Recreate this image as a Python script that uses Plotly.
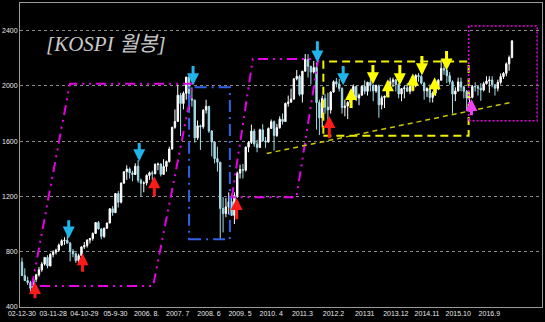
import plotly.graph_objects as go

# Monthly KOSPI candles, Dec 2002 .. May 2017
opens = [725,
 627,591,576,535,600,633,669,710,759,697,780,796,
 811,848,880,883,862,803,785,735,771,835,845,884,
 896,932,1011,965,911,970,1008,1111,1083,1221,1158,1297,
 1379,1399,1371,1359,1419,1317,1295,1297,1352,1371,1364,1432,
 1434,1360,1417,1453,1543,1700,1743,1933,1873,1946,2064,1906,
 1897,1624,1711,1704,1825,1852,1674,1594,1474,1448,1113,1076,
 1124,1162,1063,1206,1369,1395,1390,1557,1591,1673,1580,1555,
 1682,1602,1594,1692,1741,1641,1698,1759,1742,1873,1882,1905,
 2051,2069,1939,2106,2192,2142,2100,2133,1880,1769,1909,1847,
 1826,1956,2030,2014,1982,1843,1854,1881,1905,1996,1912,1933,
 1997,1961,2026,2005,1964,2001,1863,1915,1926,2005,2030,2044,
 2011,1941,1980,1986,1961,1995,2002,2076,2068,2020,1964,1981,
 1916,1949,1986,2041,2127,2114,2074,2030,1941,1963,2029,1992,
 1961,1912,1917,1996,1994,1983,1970,2016,2035,2043,2008,1983,
 2026,2067,2091,2160,2205]
highs = [757,
 680,620,590,610,640,690,725,762,775,790,810,822,
 860,890,905,936,870,820,795,785,840,870,890,900,
 940,1015,1022,970,975,1010,1115,1130,1225,1240,1300,1380,
 1425,1410,1385,1440,1464,1330,1310,1360,1380,1385,1440,1445,
 1440,1470,1460,1560,1705,1830,2005,1950,1960,2064,2085,1990,
 1900,1750,1720,1830,1900,1855,1680,1600,1560,1450,1195,1190,
 1230,1220,1230,1380,1430,1435,1560,1600,1720,1690,1610,1690,
 1723,1630,1700,1757,1750,1725,1780,1800,1880,1930,1980,2055,
 2115,2080,2110,2231,2230,2145,2180,2170,1900,1930,1940,1950,
 1960,2040,2057,2050,1990,1900,1890,1960,2010,2000,1945,2005,
 2040,2030,2050,2010,2010,2010,1930,1930,2010,2060,2060,2050,
 2020,1985,2000,2020,2020,2015,2085,2093,2080,2030,1990,2010,
 1960,1990,2050,2189,2150,2120,2100,2040,1990,2060,2060,2000,
 1970,1950,2005,2025,2000,2020,2030,2070,2070,2070,2010,2045,
 2090,2100,2170,2220,2330]
lows = [627,
 588,560,512,530,580,620,655,700,680,695,760,780,
 800,840,850,860,730,760,719,720,770,820,830,860,
 880,930,960,890,900,965,1005,1060,1080,1120,1150,1290,
 1320,1330,1310,1355,1300,1200,1230,1280,1320,1315,1360,1390,
 1345,1355,1380,1445,1540,1690,1740,1638,1830,1900,1810,1850,
 1590,1610,1537,1690,1800,1660,1490,1440,1380,892,940,1050,
 1070,1060,1000,1190,1330,1330,1380,1520,1580,1560,1520,1550,
 1600,1552,1590,1690,1532,1630,1690,1720,1740,1850,1880,1900,
 2040,1925,1880,2105,2060,2010,2090,1684,1644,1700,1800,1750,
 1800,1950,1990,1960,1800,1780,1760,1870,1900,1890,1860,1930,
 1940,1930,1960,1890,1950,1770,1830,1840,1920,2000,1990,1960,
 1910,1890,1910,1960,1940,1960,1990,2030,2010,1900,1920,1880,
 1880,1930,1970,2040,2080,2020,2010,1800,1890,1960,1960,1910,
 1817,1817,1910,1960,1930,1892,1960,2010,1950,1990,1930,1960,
 2010,2050,2070,2110,2200]
closes = [627,
 591,576,535,600,633,669,710,759,697,780,796,811,
 848,880,883,862,803,785,735,771,835,845,884,896,
 932,1011,965,911,970,1008,1111,1083,1221,1158,1297,1379,
 1399,1371,1359,1419,1317,1295,1297,1352,1371,1364,1432,1434,
 1360,1417,1453,1543,1700,1743,1933,1873,1946,2064,1906,1897,
 1624,1711,1704,1825,1852,1674,1594,1474,1448,1113,1076,1124,
 1162,1063,1206,1369,1395,1390,1557,1591,1673,1580,1555,1682,
 1602,1594,1692,1741,1641,1698,1759,1742,1873,1882,1905,2051,
 2069,1939,2106,2192,2142,2100,2133,1880,1769,1909,1847,1826,
 1956,2030,2014,1982,1843,1854,1881,1905,1996,1912,1933,1997,
 1961,2026,2005,1964,2001,1863,1915,1926,2005,2030,2044,2011,
 1941,1980,1986,1961,1995,2002,2076,2068,2020,1964,1981,1916,
 1949,1986,2041,2127,2114,2074,2030,1941,1963,2029,1992,1961,
 1912,1917,1996,1994,1983,1970,2016,2035,2043,2008,1983,2026,
 2067,2091,2160,2205,2326]

tick_pos = [0, 11, 22, 33, 44, 55, 66, 77, 88, 99, 110, 121, 132, 143, 154, 165]
tick_text = ["02-12-30", "03-11-28", "04-10-29", "05-9-30", "2006. 8.", "2007. 7",
             "2008. 6", "2009. 5", "2010. 4", "2011.3", "2012.2", "20131",
             "2013.12", "2014.11", "2015.10", "2016.9"]
y_ticks = [400, 800, 1200, 1600, 2000, 2400]

title_text = "[KOSPI 월봉]"

# annotation geometry in data units (bar index, index level)
para1 = [(3.5, 552), (16.9, 2015), (60.4, 2015), (46.3, 552)]
para2 = [(74.1, 1195), (81.5, 2195), (104.6, 2195), (96.9, 1195)]
blue_box = (59.0, 890, 73.4, 1990)
yellow_box = (106.4, 1640, 157.7, 2177)
trend_line = (86.4, 1511, 173.1, 1883)
magenta_box = (157.7, 1747, 181.9, 2434)

# arrows: (bar index, tail level, tip level)
cyan_down = [(16.5, 1039, 896), (41.4, 1597, 1454), (60.4, 2155, 2005),
             (104.3, 2334, 2170), (113.4, 2155, 2005)]
red_up = [(4.6, 452, 581), (21.4, 645, 789), (46.7, 1189, 1347),
          (75.8, 1025, 1189), (108.5, 1612, 1783)]
yellow_up = [(116.2, 1829, 1984), (129.2, 1905, 2049), (138.0, 1955, 2090),
             (145.7, 1920, 2062)]
yellow_down = [(123.9, 2162, 2012), (133.4, 2162, 2005), (141.2, 2227, 2077),
               (149.9, 2263, 2112)]
magenta_up = [(158.7, 1776, 1905)]

xs = list(range(len(closes)))

fig = go.Figure()
fig.add_trace(go.Candlestick(
    x=xs, open=opens, high=highs, low=lows, close=closes,
    increasing=dict(line=dict(color="#ffffff", width=1), fillcolor="#ffffff"),
    decreasing=dict(line=dict(color="#a6dce8", width=1), fillcolor="#a6dce8"),
    whiskerwidth=0, showlegend=False, hoverinfo="skip"))


def path_of(pts):
    s = "M " + " L ".join(f"{x},{y}" for x, y in pts) + " Z"
    return s

MAG = "#e600e6"
fig.add_shape(type="path", path=path_of(para1), xref="x", yref="y",
              line=dict(color=MAG, width=2, dash="10px,5px,2px,5px,2px,5px"))
fig.add_shape(type="path", path=path_of(para2), xref="x", yref="y",
              line=dict(color=MAG, width=2, dash="10px,5px,2px,5px,2px,5px"))
x0, y0, x1, y1 = blue_box
fig.add_shape(type="rect", x0=x0, y0=y0, x1=x1, y1=y1, xref="x", yref="y",
              line=dict(color="#2f62e6", width=2, dash="12px,5px,2px,5px"))
x0, y0, x1, y1 = yellow_box
fig.add_shape(type="rect", x0=x0, y0=y0, x1=x1, y1=y1, xref="x", yref="y",
              line=dict(color="#f0f000", width=2, dash="8px,5px"))
x0, y0, x1, y1 = trend_line
fig.add_shape(type="line", x0=x0, y0=y0, x1=x1, y1=y1, xref="x", yref="y",
              line=dict(color="#c8c800", width=1.5, dash="5px,4px"))
x0, y0, x1, y1 = magenta_box
fig.add_shape(type="rect", x0=x0, y0=y0, x1=x1, y1=y1, xref="x", yref="y",
              line=dict(color=MAG, width=1.5, dash="2px,2px"))


def add_arrows(lst, color):
    for xi, tail, tip in lst:
        fig.add_annotation(x=xi, y=tip, ax=xi, ay=tail, xref="x", yref="y",
                           axref="x", ayref="y", text="", showarrow=True,
                           arrowhead=2, arrowsize=0.8, arrowwidth=3,
                           arrowcolor=color, standoff=0)

add_arrows(cyan_down, "#1fb4ea")
add_arrows(red_up, "#ff1a1a")
add_arrows(yellow_up, "#ffff00")
add_arrows(yellow_down, "#ffff00")
add_arrows(magenta_up, "#f040f0")

fig.add_annotation(x=0.046, y=0.866, xref="paper", yref="paper",
                   xanchor="left", yanchor="middle", showarrow=False,
                   text=f"<i>{title_text}</i>",
                   font=dict(family="'Liberation Serif', 'Noto Sans CJK KR', serif",
                             size=21, color="#c8c8c8"))

fig.update_layout(
    width=545, height=322,
    margin=dict(l=18, r=2, t=2, b=15),
    paper_bgcolor="#000000", plot_bgcolor="#000000",
    showlegend=False,
    xaxis=dict(range=[-0.7, 183.6], tickvals=tick_pos, ticktext=tick_text,
               showgrid=False, zeroline=False, rangeslider=dict(visible=False),
               showline=True, linecolor="#9a9a9a", linewidth=1, mirror=True,
               ticks="", tickfont=dict(family="Liberation Sans", size=7, color="#e8e8e8")),
    yaxis=dict(range=[400, 2600], tickvals=y_ticks, ticktext=[str(v) for v in y_ticks],
               showgrid=True, gridcolor="#8a8a8a", griddash="dot", gridwidth=1,
               zeroline=False, showline=True, linecolor="#9a9a9a", linewidth=1,
               mirror=True, ticks="",
               tickfont=dict(family="Liberation Sans", size=7, color="#e8e8e8")),
)

fig.write_html("out.html")
